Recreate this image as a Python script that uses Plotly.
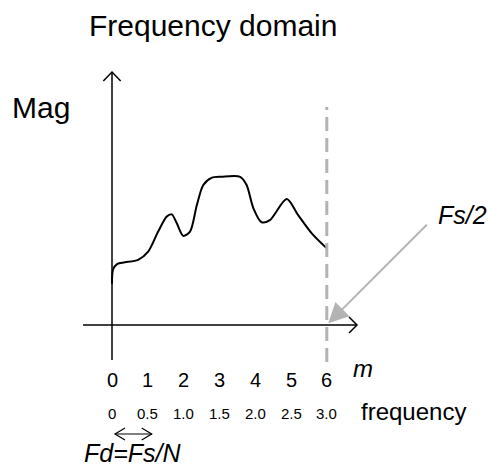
import plotly.graph_objects as go

# Spectrum sketch: x in bin index m, y in arbitrary magnitude units
m_curve = [0.0, 0.03, 0.15, 0.36, 0.73, 1.01, 1.29, 1.53, 1.67, 1.81, 1.99, 2.18, 2.37,
           2.55, 2.78, 3.06, 3.58, 3.76, 3.95, 4.18, 4.41, 4.88, 5.20, 5.58, 6.0]
mag_curve = [1.15, 1.55, 1.71, 1.75, 1.82, 2.05, 2.61, 3.03, 3.09, 2.84, 2.49, 2.61, 3.35,
             3.91, 4.11, 4.14, 4.14, 3.91, 3.26, 2.87, 2.93, 3.52, 3.07, 2.56, 2.14]

m_ticks = [0, 1, 2, 3, 4, 5, 6]
freq_ticks = ["0", "0.5", "1.0", "1.5", "2.0", "2.5", "3.0"]
M_NYQ = 6

# pixel frame of the 488x468 page -> data units (1 bin = 35.8 px)
W, H = 488, 468
PX, X0, Y0 = 35.8, 112, 325


def dx(px):
    return (px - X0) / PX


def dy(py):
    return (Y0 - py) / PX


FONT = "Liberation Sans, Arial, sans-serif"
GRAY = "#b3b3b3"

fig = go.Figure()
fig.add_trace(go.Scatter(
    x=m_curve, y=mag_curve, mode="lines",
    line=dict(color="black", width=2, shape="spline", smoothing=0.8),
    hoverinfo="skip", showlegend=False,
))

shapes = [
    # nyquist dashed line
    dict(type="line", x0=M_NYQ, x1=M_NYQ, y0=dy(362), y1=dy(107),
         line=dict(color=GRAY, width=3, dash="14px,7px")),
    # axes
    dict(type="line", x0=0, x1=0, y0=dy(360), y1=dy(72),
         line=dict(color="black", width=1.5)),
    dict(type="line", x0=dx(83), x1=dx(357), y0=0, y1=0,
         line=dict(color="black", width=1.5)),
    # axis arrowheads (open chevrons)
    dict(type="path", path=f"M {dx(103.3)},{dy(81)} L 0,{dy(72)} L {dx(120.7)},{dy(81)}",
         line=dict(color="black", width=1.5)),
    dict(type="path", path=f"M {dx(349)},{dy(317)} L {dx(357)},0 L {dx(349)},{dy(333)}",
         line=dict(color="black", width=1.5)),
    # Fd double arrow
    dict(type="line", x0=dx(115), x1=dx(151.7), y0=dy(434), y1=dy(434),
         line=dict(color="black", width=1.2)),
    dict(type="path", path=f"M {dx(125)},{dy(428)} L {dx(115)},{dy(434)} L {dx(125)},{dy(440)}",
         line=dict(color="black", width=1.2)),
    dict(type="path", path=f"M {dx(141.7)},{dy(428)} L {dx(151.7)},{dy(434)} L {dx(141.7)},{dy(440)}",
         line=dict(color="black", width=1.2)),
]

ann = []
# gray pointer to Fs/2
ann.append(dict(x=dx(328.3), y=dy(323.3), ax=dx(428.3), ay=dy(223.3),
                xref="x", yref="y", axref="x", ayref="y", text="",
                showarrow=True, arrowhead=2, arrowsize=2, arrowwidth=2,
                arrowcolor=GRAY, standoff=0))

for m in m_ticks:
    ann.append(dict(x=m, y=dy(379.5), text=str(m), showarrow=False,
                    font=dict(size=20, color="black", family=FONT)))
for m, lab in zip(m_ticks, freq_ticks):
    ann.append(dict(x=m, y=dy(413), text=lab, showarrow=False,
                    font=dict(size=15, color="black", family=FONT)))

texts = [
    ("Frequency domain", 213, 25, 30, False),
    ("Mag", 41, 107.5, 30, False),
    ("m", 363, 368, 24, True),
    ("frequency", 413, 411.4, 24, False),
    ("Fd=Fs/N", 132, 452.5, 25, True),
    ("Fs/2", 462, 215, 25, True),
]
for t, px, py, size, italic in texts:
    ann.append(dict(x=dx(px), y=dy(py), text=f"<i>{t}</i>" if italic else t,
                    showarrow=False,
                    font=dict(size=size, color="black", family=FONT)))

fig.update_layout(
    width=W, height=H, margin=dict(l=0, r=0, t=0, b=0),
    paper_bgcolor="white", plot_bgcolor="white",
    xaxis=dict(range=[dx(0), dx(W)], visible=False, fixedrange=True),
    yaxis=dict(range=[dy(H), dy(0)], visible=False, fixedrange=True),
    shapes=shapes, annotations=ann, showlegend=False,
)

# drop the browser's default 8px body margin so the figure fills the window
fig.write_html("out.html", config={"displayModeBar": False},
               post_script="document.body.style.margin='0';")
